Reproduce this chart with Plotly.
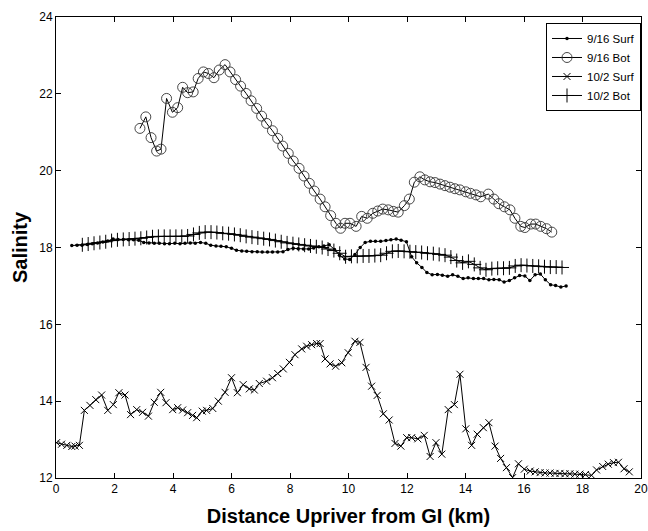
import plotly.graph_objects as go

# ---- data ----
surf916_x = [0.54, 0.72, 0.89, 1.07, 1.24, 1.42, 1.60, 1.77, 1.95, 2.12, 2.30, 2.48, 2.65, 2.83, 3.00, 3.18,
             3.36, 3.53, 3.71, 3.88, 4.06, 4.24, 4.41, 4.59, 4.76, 4.94, 5.12, 5.29, 5.47, 5.64, 5.82, 6.00,
             6.17, 6.35, 6.52, 6.70, 6.88, 7.05, 7.23, 7.40, 7.58, 7.76, 7.93, 8.11, 8.28, 8.46, 8.64, 8.81,
             8.99, 9.16, 9.34, 9.52, 9.69, 9.87, 10.04, 10.22, 10.40, 10.57, 10.75, 10.92, 11.10, 11.28, 11.45,
             11.63, 11.80, 11.98, 12.16, 12.33, 12.51, 12.68, 12.86, 13.04, 13.21, 13.39, 13.56, 13.74, 13.92,
             14.09, 14.27, 14.44, 14.62, 14.80, 14.97, 15.15, 15.32, 15.50, 15.68, 15.85, 16.03, 16.20, 16.38,
             16.56, 16.73, 16.91, 17.08, 17.26, 17.44]
surf916_y = [18.05, 18.06, 18.06, 18.08, 18.10, 18.12, 18.14, 18.17, 18.22, 18.21, 18.21, 18.20, 18.20, 18.19,
             18.13, 18.12, 18.11, 18.11, 18.10, 18.10, 18.11, 18.10, 18.11, 18.12, 18.11, 18.13, 18.11, 18.06,
             18.04, 18.03, 18.02, 17.98, 17.93, 17.91, 17.90, 17.89, 17.89, 17.88, 17.88, 17.88, 17.88, 17.89,
             17.95, 17.98, 17.97, 17.96, 17.96, 17.99, 18.02, 18.04, 18.07, 17.95, 17.80, 17.70, 17.69, 17.82,
             18.00, 18.13, 18.16, 18.16, 18.16, 18.18, 18.20, 18.22, 18.19, 18.15, 17.76, 17.60, 17.48, 17.35,
             17.29, 17.30, 17.28, 17.25, 17.29, 17.25, 17.19, 17.21, 17.19, 17.19, 17.19, 17.16, 17.17, 17.16,
             17.10, 17.14, 17.21, 17.27, 17.26, 17.14, 17.29, 17.31, 17.16, 17.03, 17.01, 16.97, 17.00]

bot916_x = [2.87, 3.07, 3.25, 3.44, 3.59, 3.78, 3.98, 4.16, 4.33, 4.50, 4.69, 4.86, 5.04, 5.21, 5.40, 5.58,
            5.78, 5.95, 6.14, 6.31, 6.50, 6.67, 6.86, 7.03, 7.20, 7.40, 7.58, 7.75, 7.94, 8.11, 8.31, 8.48,
            8.66, 8.83, 9.03, 9.20, 9.39, 9.57, 9.73, 9.88, 10.05, 10.26, 10.45, 10.64, 10.83, 11.00, 11.17,
            11.36, 11.53, 11.70, 11.91, 12.08, 12.25, 12.44, 12.61, 12.79, 12.96, 13.13, 13.30, 13.47, 13.64,
            13.81, 14.01, 14.17, 14.36, 14.52, 14.78, 14.97, 15.14, 15.33, 15.52, 15.69, 15.89, 16.03, 16.23,
            16.40, 16.57, 16.77, 16.95]
bot916_y = [21.10, 21.40, 20.86, 20.51, 20.56, 21.88, 21.52, 21.64, 22.17, 22.03, 22.05, 22.40, 22.57, 22.53,
            22.42, 22.62, 22.76, 22.57, 22.37, 22.20, 22.01, 21.82, 21.62, 21.42, 21.23, 21.04, 20.84, 20.64,
            20.45, 20.25, 20.06, 19.86, 19.67, 19.47, 19.26, 19.06, 18.83, 18.63, 18.50, 18.63, 18.63, 18.55,
            18.81, 18.76, 18.89, 18.95, 19.00, 18.98, 18.94, 18.92, 19.09, 19.26, 19.70, 19.84, 19.76, 19.71,
            19.69, 19.65, 19.61, 19.57, 19.53, 19.50, 19.45, 19.41, 19.37, 19.32, 19.39, 19.26, 19.14, 19.06,
            18.98, 18.76, 18.55, 18.52, 18.61, 18.61, 18.55, 18.49, 18.40]

surf102_x = [0.02, 0.19, 0.37, 0.54, 0.65, 0.80, 0.97, 1.16, 1.36, 1.56, 1.77, 1.96, 2.15, 2.36, 2.55, 2.76,
             2.96, 3.16, 3.36, 3.58, 3.76, 3.99, 4.16, 4.33, 4.50, 4.67, 4.81, 5.00, 5.15, 5.36, 5.55, 5.78,
             6.00, 6.20, 6.40, 6.61, 6.78, 6.95, 7.20, 7.40, 7.58, 7.77, 7.98, 8.17, 8.40, 8.57, 8.74, 8.91,
             9.03, 9.20, 9.37, 9.56, 9.77, 9.99, 10.22, 10.39, 10.60, 10.79, 10.98, 11.19, 11.39, 11.59, 11.79,
             11.99, 12.16, 12.37, 12.59, 12.79, 12.99, 13.19, 13.41, 13.62, 13.81, 14.01, 14.21, 14.40, 14.61,
             14.80, 15.01, 15.20, 15.40, 15.61, 15.81, 16.01, 16.21, 16.38, 16.55, 16.72, 16.89, 17.06, 17.23,
             17.40, 17.57, 17.74, 17.91, 18.10, 18.31, 18.48, 18.69, 18.88, 19.06, 19.23, 19.42, 19.60]
surf102_y = [12.92, 12.88, 12.85, 12.82, 12.83, 12.85, 13.76, 13.89, 14.04, 14.16, 13.76, 13.91, 14.22, 14.16,
             13.65, 13.78, 13.71, 13.61, 13.97, 14.23, 13.96, 13.78, 13.83, 13.77, 13.70, 13.63, 13.57, 13.74,
             13.76, 13.81, 14.00, 14.23, 14.61, 14.22, 14.43, 14.32, 14.29, 14.46, 14.52, 14.61, 14.72, 14.84,
             15.01, 15.21, 15.36, 15.43, 15.47, 15.50, 15.50, 15.10, 14.97, 14.91, 15.00, 15.26, 15.56, 15.53,
             14.88, 14.39, 14.15, 13.67, 13.51, 12.90, 12.83, 13.05, 13.05, 13.02, 13.11, 12.56, 12.92, 12.62,
             13.78, 13.91, 14.70, 13.28, 12.85, 13.14, 13.31, 13.44, 12.83, 12.51, 12.27, 12.01, 12.37, 12.23,
             12.18, 12.16, 12.14, 12.13, 12.13, 12.12, 12.12, 12.11, 12.11, 12.10, 12.10, 12.09, 12.07, 12.21,
             12.30, 12.36, 12.40, 12.41, 12.24, 12.16]

bot102_x = [0.9, 1.1, 1.3, 1.5, 1.7, 1.9, 2.1, 2.3, 2.5, 2.7, 2.9, 3.1, 3.3, 3.5, 3.7, 3.9, 4.1, 4.3, 4.5,
            4.7, 4.9, 5.1, 5.3, 5.5, 5.7, 5.9, 6.1, 6.3, 6.5, 6.7, 6.9, 7.1, 7.3, 7.5, 7.7, 7.9, 8.1, 8.3,
            8.5, 8.7, 8.9, 9.1, 9.3, 9.5, 9.7, 9.9, 10.1, 10.3, 10.5, 10.7, 10.9, 11.1, 11.3, 11.5, 11.7,
            11.9, 12.1, 12.3, 12.5, 12.7, 12.9, 13.1, 13.3, 13.5, 13.7, 13.9, 14.1, 14.3, 14.5, 14.7, 14.9,
            15.1, 15.3, 15.5, 15.7, 15.9, 16.1, 16.3, 16.5, 16.7, 16.9, 17.1, 17.3]
bot102_y = [18.07, 18.09, 18.11, 18.13, 18.15, 18.18, 18.20, 18.21, 18.22, 18.23, 18.24, 18.26, 18.28, 18.29,
            18.29, 18.29, 18.29, 18.29, 18.30, 18.34, 18.38, 18.40, 18.40, 18.39, 18.37, 18.36, 18.34, 18.32,
            18.29, 18.27, 18.25, 18.23, 18.21, 18.18, 18.15, 18.12, 18.10, 18.08, 18.06, 18.04, 18.02, 18.00,
            17.96, 17.92, 17.85, 17.76, 17.77, 17.77, 17.78, 17.78, 17.79, 17.80, 17.85, 17.90, 17.91, 17.90,
            17.89, 17.88, 17.87, 17.85, 17.84, 17.82, 17.80, 17.75, 17.66, 17.60, 17.64, 17.56, 17.47, 17.42,
            17.45, 17.46, 17.46, 17.47, 17.52, 17.54, 17.53, 17.52, 17.51, 17.50, 17.49, 17.49, 17.48]

FONT = "Liberation Sans, Arial, Helvetica, sans-serif"

fig = go.Figure()
fig.add_trace(go.Scatter(x=surf916_x, y=surf916_y, mode="lines+markers", name="9/16 Surf",
                         line=dict(color="black", width=1),
                         marker=dict(symbol="circle", size=3.5, color="black")))
fig.add_trace(go.Scatter(x=bot916_x, y=bot916_y, mode="lines+markers", name="9/16 Bot",
                         line=dict(color="black", width=1),
                         marker=dict(symbol="circle-open", size=10, color="#333333",
                                     line=dict(width=0.9, color="#333333"))))
fig.add_trace(go.Scatter(x=surf102_x, y=surf102_y, mode="lines+markers", name="10/2 Surf",
                         line=dict(color="black", width=1),
                         marker=dict(symbol="x-thin", size=7, color="black",
                                     line=dict(width=1, color="black"))))
fig.add_trace(go.Scatter(x=bot102_x, y=bot102_y, mode="lines+markers", name="10/2 Bot",
                         line=dict(color="black", width=1),
                         marker=dict(symbol="cross-thin", size=10, color="black",
                                     line=dict(width=1, color="black"))))

axis_common = dict(showline=True, linecolor="black", linewidth=1, mirror="ticks",
                   ticks="inside", ticklen=5, tickcolor="black", showgrid=False, zeroline=False,
                   ticklabeloverflow="allow",
                   tickfont=dict(family=FONT, size=12, color="black"))

fig.update_layout(
    width=648, height=531,
    margin=dict(l=56, r=7, t=17, b=53, autoexpand=False),
    paper_bgcolor="white", plot_bgcolor="white",
    font=dict(family=FONT, color="black"),
    xaxis=dict(range=[0, 20], dtick=2, tick0=0,
               title=dict(text="<b>Distance Upriver from GI (km)</b>",
                          font=dict(family=FONT, size=20), standoff=13),
               **axis_common),
    yaxis=dict(range=[12, 24], dtick=2, tick0=12,
               title=dict(text="<b>Salinity</b>", font=dict(family=FONT, size=20), standoff=6),
               **axis_common),
    legend=dict(x=1, y=0.987, xanchor="right", yanchor="top",
                bordercolor="black", borderwidth=1, bgcolor="white",
                font=dict(family=FONT, size=11.5), tracegroupgap=0, itemwidth=30),
    showlegend=True,
)

fig.write_html("out.html")
